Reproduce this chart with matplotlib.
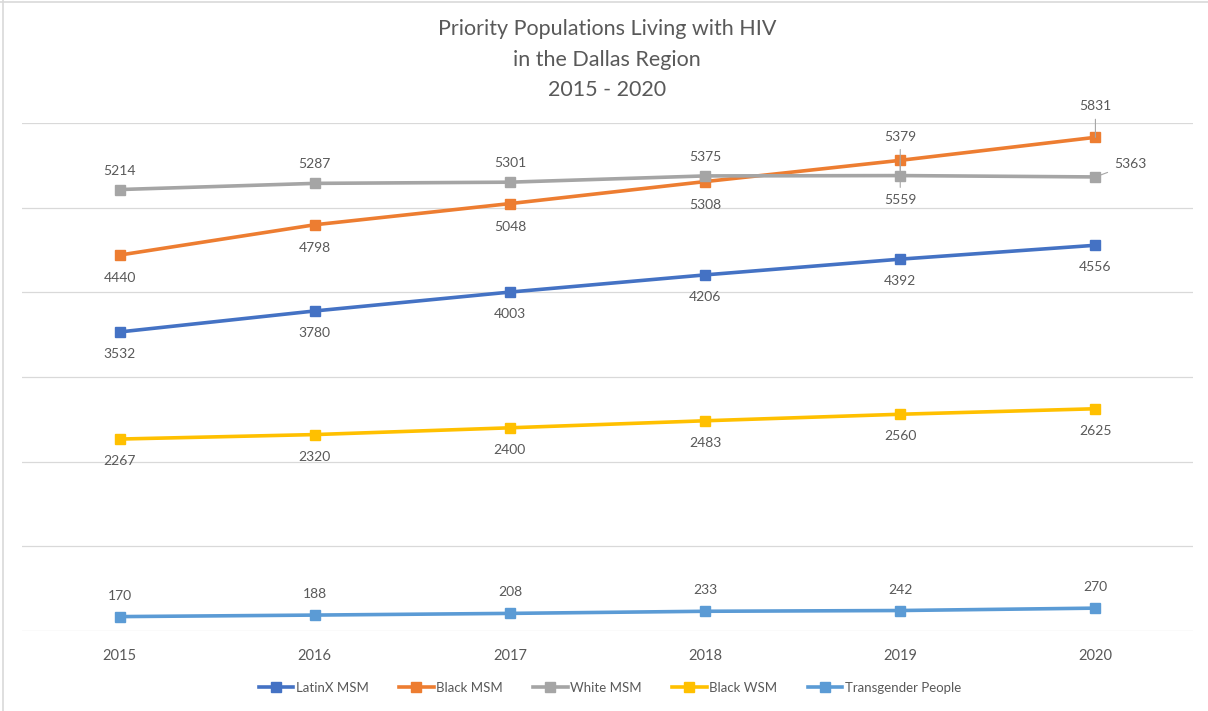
import matplotlib

matplotlib.use("Agg")
import matplotlib.pyplot as plt
from matplotlib.lines import Line2D

plt.rcParams["font.family"] = ["Lato", "DejaVu Sans"]

years = ["2015", "2016", "2017", "2018", "2019", "2020"]
latinx_msm = [3532, 3780, 4003, 4206, 4392, 4556]
black_msm = [4440, 4798, 5048, 5308, 5559, 5831]
white_msm = [5214, 5287, 5301, 5375, 5379, 5363]
black_wsm = [2267, 2320, 2400, 2483, 2560, 2625]
transgender = [170, 188, 208, 233, 242, 270]

TEXT = "#595959"
GRID = "#D9D9D9"
PX = 0.72  # piksele -> punkty przy dpi=100

# (nazwa, dane, kolor, domyślne przesunięcie etykiety w px: dodatnie = w górę)
series = [
    ("LatinX MSM", latinx_msm, "#4472C4", -22),
    ("Black MSM", black_msm, "#ED7D31", -23),
    ("White MSM", white_msm, "#A5A5A5", 19),
    ("Black WSM", black_wsm, "#FFC000", -22),
    ("Transgender People", transgender, "#5B9BD5", 21),
]

# etykiety przeciągnięte ręcznie w Excelu (dx, dy w px) + linia odniesienia
moved = {
    ("Black MSM", 4): (0, -40),
    ("Black MSM", 5): (0, 31),
    ("White MSM", 4): (0, 39),
    ("White MSM", 5): (35, 13),
}

fig = plt.figure(figsize=(12.08, 7.11), dpi=100)
ax = fig.add_axes([22 / 1208, 80 / 711, 1171 / 1208, 508 / 711])

x = list(range(len(years)))
for name, vals, color, dy in series:
    ax.plot(x, vals, color=color, lw=2.6, marker="s", ms=6.5,
            solid_joinstyle="round", label=name, zorder=3)

for name, vals, color, dy in series:
    for i, v in enumerate(vals):
        if (name, i) in moved:
            mdx, mdy = moved[(name, i)]
            ax.annotate(str(v), xy=(i, v), xytext=(mdx * PX, mdy * PX),
                        textcoords="offset points", ha="center", va="center",
                        fontsize=10, color=TEXT, zorder=4,
                        arrowprops=dict(arrowstyle="-", color="#A6A6A6", lw=0.8,
                                        shrinkA=3, shrinkB=0))
        else:
            ax.annotate(str(v), xy=(i, v), xytext=(0, dy * PX),
                        textcoords="offset points", ha="center", va="center",
                        fontsize=10, color=TEXT, zorder=4)

ax.set_xlim(-0.5, len(years) - 0.5)
ax.set_ylim(0, 6000)
ax.set_yticks(range(0, 6001, 1000))
ax.grid(axis="y", color=GRID, lw=0.9)
ax.set_axisbelow(True)
ax.set_xticks(x)
ax.set_xticklabels(years, fontsize=10.5, color=TEXT)
ax.tick_params(axis="x", length=0, pad=13)
ax.tick_params(axis="y", length=0, labelleft=False)
for s in ax.spines.values():
    s.set_visible(False)

fig.text(607 / 1208, 1 - 59.5 / 711,
         "Priority Populations Living with HIV\nin the Dallas Region\n2015 - 2020",
         ha="center", va="center", fontsize=15.5, color=TEXT, linespacing=1.68)

handles = [Line2D([], [], color=c, lw=2.6, marker="s", ms=6.5) for _, _, c, _ in series]
fig.legend(handles, [n for n, _, _, _ in series], loc="center",
           bbox_to_anchor=(610 / 1208, 1 - 688 / 711), ncol=5, frameon=False,
           fontsize=9.5, handlelength=2.6, handletextpad=0.2, columnspacing=2.3,
           labelcolor=TEXT)

# ramka wykresu widoczna tylko u góry i z lewej
fig.add_artist(Line2D([0, 1], [1 - 1.5 / 711] * 2, color=GRID, lw=1.2))
fig.add_artist(Line2D([3 / 1208] * 2, [0, 1], color=GRID, lw=1.2))

fig.savefig("out.png", dpi=100)
